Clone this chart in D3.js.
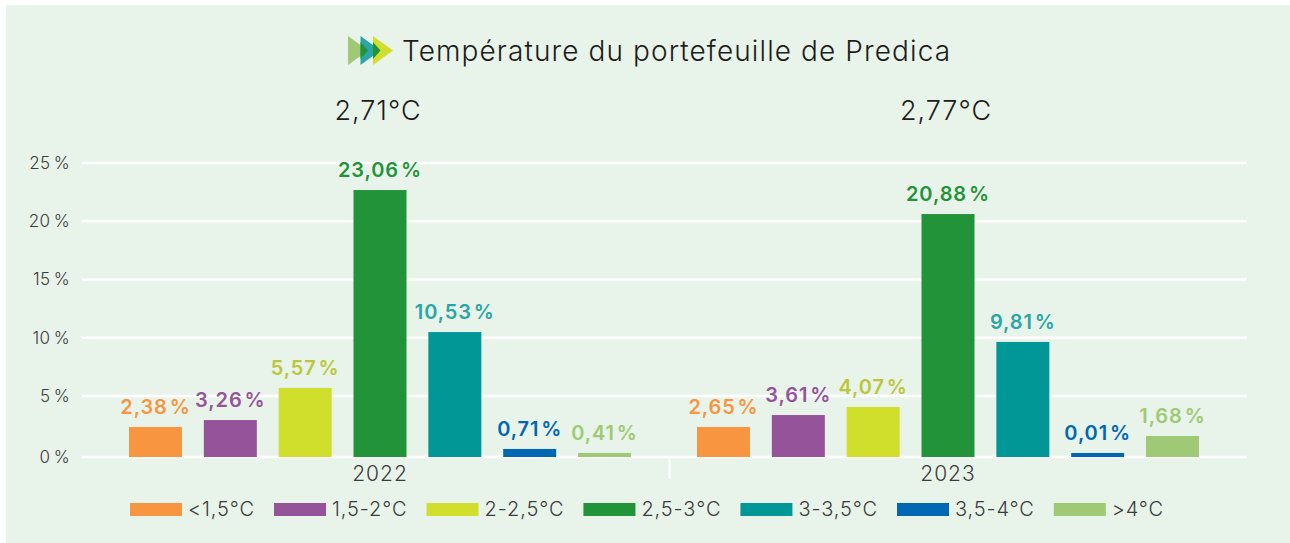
<!DOCTYPE html>
<html>
<head>
<meta charset="utf-8">
<script src="https://cdn.jsdelivr.net/npm/d3@7"></script>
<style>
  html, body { margin: 0; padding: 0; background: #fff; }
  svg { display: block; }
  text { font-family: "Inter", "Noto Sans", sans-serif; }
</style>
</head>
<body>
<script>
// values (bars are drawn a little apart from their printed labels)
var years = ["2022", "2023"];
var categories = ["<1,5°C", "1,5-2°C", "2-2,5°C", "2,5-3°C", "3-3,5°C", "3,5-4°C", ">4°C"];
var colors = ["#f79540", "#95549a", "#d0df2c", "#239339", "#009796", "#0068b3", "#9fc975"];
var labelColors = ["#f79540", "#95549a", "#bcc63c", "#239339", "#2aa6a6", "#0068b3", "#9fc975"];
var bars2022 = [2.46, 3.03, 5.69, 22.68, 10.49, 0.66, 0.33];
var bars2023 = [2.46, 3.44, 4.10, 20.62, 9.64, 0.33, 1.72];
var labels2022 = ["2,38 %", "3,26 %", "5,57 %", "23,06 %", "10,53 %", "0,71 %", "0,41 %"];
var labels2023 = ["2,65 %", "3,61 %", "4,07 %", "20,88 %", "9,81 %", "0,01 %", "1,68 %"];
var temps = ["2,71°C", "2,77°C"];
var yTicks = [0, 5, 10, 15, 20, 25];
var title = "Température du portefeuille de Predica";

var width = 1290, height = 543;

var svg = d3.select("body").append("svg")
    .attr("width", width)
    .attr("height", height);

// panel
svg.append("rect")
    .attr("x", 6).attr("y", 5)
    .attr("width", width - 6).attr("height", height - 5)
    .attr("fill", "#e8f3ea");

/* SCALES
   the gap 0-5 is slightly taller than the others in the original, hence the 3 stops */
var y = d3.scaleLinear().domain([0, 5, 25]).range([457, 396, 163]);
var x0 = d3.scaleBand().domain(years).range([96, 1232]);
var groupW = 502;
var x1 = d3.scaleBand().domain(categories).range([0, groupW]).paddingInner(0.292);

// gridlines + y labels
var gridG = svg.append("g");
var yAxis = d3.axisLeft(y).tickValues(yTicks).tickSize(0).tickPadding(12)
    .tickFormat(function(d) { return d + " %"; });
var yG = svg.append("g").attr("transform", "translate(82,0)").call(yAxis);
yG.select(".domain").remove();
yG.selectAll("text")
    .attr("font-size", 17)
    .attr("font-weight", 300)
    .attr("word-spacing", -2)
    .attr("letter-spacing", 0.4)
    .attr("fill", "#3c3c3b");

gridG.selectAll("line").data(yTicks).enter().append("line")
    .attr("x1", 82).attr("x2", 1247)
    .attr("y1", function(d) { return y(d); })
    .attr("y2", function(d) { return y(d); })
    .attr("stroke", "#fff")
    .attr("stroke-width", 2.5);

// small separator between the years
svg.append("line")
    .attr("x1", 669.5).attr("x2", 669.5)
    .attr("y1", y(0)).attr("y2", 479)
    .attr("stroke", "#fff").attr("stroke-width", 2);

// bars + labels, one group per year
var seriesBars = [bars2022, bars2023];
var seriesLabels = [labels2022, labels2023];

years.forEach(function(yr, i) {
  var g = svg.append("g")
      .attr("transform", "translate(" + (x0(yr) + x0.bandwidth() / 2 - groupW / 2) + ",0)");

  g.selectAll("rect").data(seriesBars[i]).enter().append("rect")
      .attr("x", function(d, j) { return x1(categories[j]); })
      .attr("y", function(d) { return y(d); })
      .attr("width", x1.bandwidth())
      .attr("height", function(d) { return y(0) - y(d); })
      .attr("fill", function(d, j) { return colors[j]; });

  g.selectAll("text").data(seriesLabels[i]).enter().append("text")
      .attr("x", function(d, j) { return x1(categories[j]) + x1.bandwidth() / 2; })
      .attr("y", function(d, j) { return y(seriesBars[i][j]) - 13; })
      .attr("text-anchor", "middle")
      .attr("font-size", 20)
      .attr("font-weight", 600)
      .attr("letter-spacing", 0.9)
      .attr("word-spacing", -4)
      .attr("fill", function(d, j) { return labelColors[j]; })
      .text(function(d) { return d; });

  // year under the axis
  svg.append("text")
      .attr("x", x0(yr) + x0.bandwidth() / 2)
      .attr("y", 481)
      .attr("text-anchor", "middle")
      .attr("font-size", 21)
      .attr("font-weight", 300)
      .attr("letter-spacing", 1)
      .attr("fill", "#3c3c3b")
      .text(yr);

  // portfolio temperature on top
  svg.append("text")
      .attr("x", i == 0 ? 378 : 946)
      .attr("y", 120)
      .attr("text-anchor", "middle")
      .attr("font-size", 27)
      .attr("font-weight", 300)
      .attr("letter-spacing", 1)
      .attr("fill", "#1d1d1b")
      .text(temps[i]);
});

/* TITLE + ICON */
svg.append("text")
    .attr("x", 402).attr("y", 61)
    .attr("font-size", 28)
    .attr("font-weight", 300)
    .attr("letter-spacing", 1.1)
    .attr("fill", "#1d1d1b")
    .text(title);

var tri = d3.line();
function arrow(x, color) {
  svg.append("path")
      .attr("d", tri([[x, 36], [x + 20, 50.5], [x, 65]]) + "Z")
      .attr("fill", color);
}
arrow(348, "#9fc975");
arrow(360.5, "#2aa6a6");
arrow(373, "#d0df2c");
// darker wedge where two arrows overlap
[360.5, 373].forEach(function(x) {
  svg.append("path")
      .attr("d", tri([[x, 42], [x + 7.5, 50.5], [x, 59]]) + "Z")
      .attr("fill", "#239339");
});

/* LEGEND: swatch + text, laid out one after the other */
var legendX = 130;
categories.forEach(function(c, i) {
  svg.append("rect")
      .attr("x", legendX).attr("y", 503)
      .attr("width", 52).attr("height", 13)
      .attr("fill", colors[i]);
  var t = svg.append("text")
      .attr("x", legendX + 58).attr("y", 516)
      .attr("font-size", 20)
      .attr("font-weight", 300)
      .attr("letter-spacing", 0.9)
      .attr("fill", "#3c3c3b")
      .text(c);
  legendX += 58 + t.node().getComputedTextLength() + 19;
});
</script>
</body>
</html>
